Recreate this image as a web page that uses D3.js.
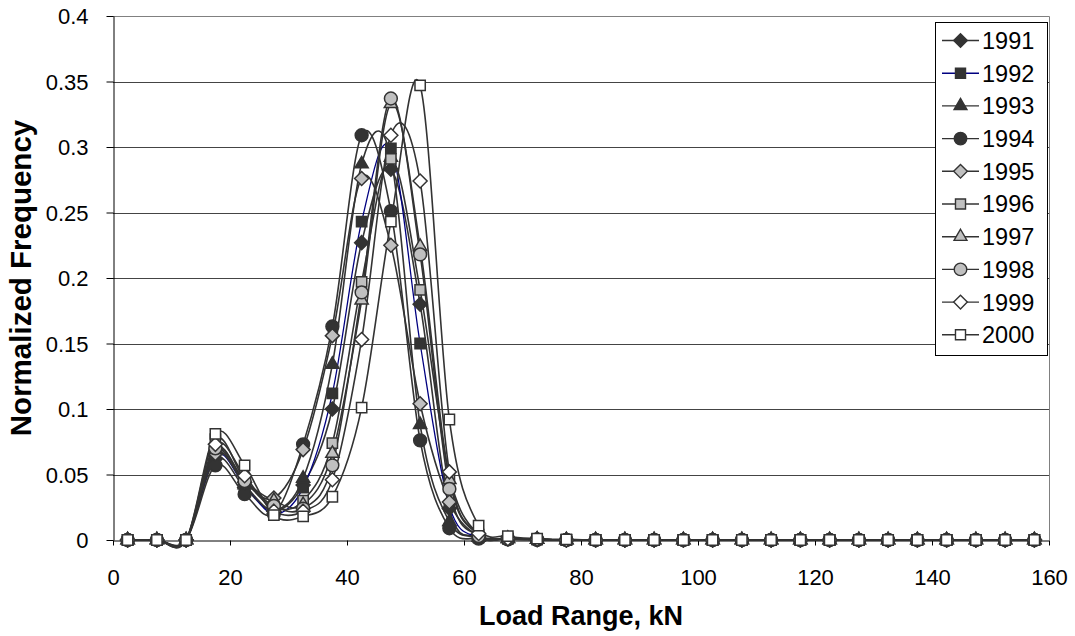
<!DOCTYPE html>
<html>
<head>
<meta charset="utf-8">
<script src="https://cdn.jsdelivr.net/npm/d3@7"></script>
<style>
  html, body { margin: 0; padding: 0; background: #fff; }
  svg { display: block; font-family: "Liberation Sans", Arial, sans-serif; }
</style>
</head>
<body>
<svg id="chart" width="1075" height="636"></svg>
<script>
// Load range bin midpoints (kN)
const loadRange = [2.5, 7.5, 12.5, 17.5, 22.5, 27.5, 32.5, 37.5, 42.5, 47.5, 52.5, 57.5,
  62.5, 67.5, 72.5, 77.5, 82.5, 87.5, 92.5, 97.5, 102.5, 107.5, 112.5, 117.5,
  122.5, 127.5, 132.5, 137.5, 142.5, 147.5, 152.5, 157.5];

const years = ["1991", "1992", "1993", "1994", "1995", "1996", "1997", "1998", "1999", "2000"];

// Normalized frequency per year (same order as loadRange; bins above 77.5 kN are empty)
const tail = new Array(16).fill(0);
const f1991 = [0, 0, 0, 0.062, 0.040, 0.022, 0.042, 0.100, 0.227, 0.283, 0.180, 0.024, 0.003, 0.001, 0.0005, 0, ...tail];
const f1992 = [0, 0, 0, 0.065, 0.042, 0.020, 0.040, 0.112, 0.243, 0.299, 0.150, 0.026, 0.002, 0.001, 0.0005, 0, ...tail];
const f1993 = [0, 0, 0, 0.068, 0.042, 0.023, 0.047, 0.134, 0.287, 0.292, 0.088, 0.014, 0.002, 0.001, 0.0005, 0, ...tail];
const f1994 = [0, 0, 0, 0.057, 0.035, 0.020, 0.073, 0.163, 0.309, 0.251, 0.076, 0.009, 0.001, 0.0005, 0, 0, ...tail];
const f1995 = [0, 0, 0, 0.066, 0.044, 0.032, 0.069, 0.156, 0.276, 0.225, 0.104, 0.029, 0.003, 0.001, 0.0005, 0, ...tail];
const f1996 = [0, 0, 0, 0.077, 0.046, 0.025, 0.030, 0.074, 0.197, 0.291, 0.191, 0.049, 0.004, 0.001, 0.0005, 0, ...tail];
const f1997 = [0, 0, 0, 0.069, 0.045, 0.030, 0.027, 0.066, 0.183, 0.333, 0.224, 0.046, 0.004, 0.001, 0.0005, 0, ...tail];
const f1998 = [0, 0, 0, 0.070, 0.045, 0.026, 0.024, 0.057, 0.189, 0.337, 0.218, 0.039, 0.003, 0.001, 0.0005, 0, ...tail];
const f1999 = [0, 0, 0, 0.073, 0.049, 0.022, 0.022, 0.046, 0.153, 0.309, 0.274, 0.052, 0.005, 0.001, 0.0005, 0, ...tail];
const f2000 = [0, 0, 0, 0.081, 0.057, 0.019, 0.018, 0.033, 0.101, 0.243, 0.347, 0.092, 0.011, 0.003, 0.001, 0.0005, ...tail];

const seriesValues = [f1991, f1992, f1993, f1994, f1995, f1996, f1997, f1998, f1999, f2000];

const xTicks = [0, 20, 40, 60, 80, 100, 120, 140, 160];
const yTicks = [0, 0.05, 0.1, 0.15, 0.2, 0.25, 0.3, 0.35, 0.4];

// Marker shape / fill / line colour per year
const shapes = ["diamond", "square", "triangle", "circle", "diamond", "square", "triangle", "circle", "diamond", "square"];
const fills = ["#333333", "#333333", "#333333", "#333333", "#c0c0c0", "#c0c0c0", "#c0c0c0", "#c0c0c0", "#ffffff", "#ffffff"];
const lineColors = ["#333333", "#000080", "#333333", "#333333", "#333333", "#333333", "#333333", "#333333", "#333333", "#333333"];

const svg = d3.select("#chart");
const plot = { left: 113, right: 1049, top: 16, bottom: 540 };

const x = d3.scaleLinear().domain([0, 160]).range([plot.left, plot.right]);
const y = d3.scaleLinear().domain([0, 0.4]).range([plot.bottom, plot.top]);

// Horizontal gridlines
svg.append("g")
  .selectAll("line")
  .data(yTicks.filter(t => t > 0 && t < 0.4))
  .join("line")
  .attr("x1", plot.left).attr("x2", plot.right)
  .attr("y1", d => Math.round(y(d)) + 0.5).attr("y2", d => Math.round(y(d)) + 0.5)
  .attr("stroke", "#444").attr("stroke-width", 1);

// Plot area border (top and right)
svg.append("path")
  .attr("d", `M${plot.left},${plot.top + 0.5}H${plot.right + 0.5}V${plot.bottom}`)
  .attr("fill", "none").attr("stroke", "#808080").attr("stroke-width", 1);

// Axes
const xAxis = d3.axisBottom(x).tickValues(xTicks).tickFormat(d3.format("d")).tickSize(5).tickSizeOuter(0);
const yAxis = d3.axisLeft(y).tickValues(yTicks).tickFormat(d => d === 0 ? "0" : String(+d.toFixed(2))).tickSize(7).tickSizeOuter(0);

const gx = svg.append("g").attr("transform", `translate(0,${plot.bottom + 0.5})`).call(xAxis);
const gy = svg.append("g").attr("transform", `translate(${plot.left + 0.5},0)`).call(yAxis);
[gx, gy].forEach(g => {
  g.select(".domain").attr("stroke", "#000").attr("stroke-width", 1);
  g.selectAll(".tick line").attr("stroke", "#000");
  g.selectAll(".tick text").attr("fill", "#000").attr("font-size", "22px")
    .attr("font-family", "'Liberation Sans', Arial, sans-serif");
});
gx.selectAll(".tick text").attr("y", 44.5).attr("dy", 0);
gy.selectAll(".tick text").attr("x", -25).attr("dy", "0.36em");

// Axis titles
svg.append("text")
  .attr("x", 581).attr("y", 625)
  .attr("text-anchor", "middle").attr("font-size", "27px").attr("font-weight", "bold")
  .text("Load Range, kN");
svg.append("text")
  .attr("transform", `translate(31,278) rotate(-90)`)
  .attr("text-anchor", "middle").attr("font-size", "29.5px").attr("font-weight", "bold")
  .text("Normalized Frequency");

// Smoothed series lines
const line = d3.line()
  .x((d, i) => x(loadRange[i]))
  .y(d => y(d))
  .curve(d3.curveCardinal.tension(0));

const clipId = "plot-clip";
svg.append("clipPath").attr("id", clipId)
  .append("rect").attr("x", plot.left).attr("y", plot.top - 10)
  .attr("width", plot.right - plot.left).attr("height", plot.bottom - plot.top + 20);

const linesG = svg.append("g").attr("clip-path", `url(#${clipId})`);
seriesValues.forEach((vals, s) => {
  linesG.append("path")
    .datum(vals)
    .attr("d", line)
    .attr("fill", "none")
    .attr("stroke", lineColors[s])
    .attr("stroke-width", s === 1 ? 1.3 : 1.6);
});

// Marker symbols
const symbolTypes = {
  diamond: d3.symbolDiamond2,
  square: d3.symbolSquare2,
  triangle: d3.symbolTriangle2,
  circle: d3.symbolCircle
};
const symbolSizes = { diamond: 125, square: 135, triangle: 125, circle: 130 };

function markerPath(shape, scale = 1) {
  return d3.symbol().type(symbolTypes[shape]).size(symbolSizes[shape] * scale)();
}

const markersG = svg.append("g");
seriesValues.forEach((vals, s) => {
  markersG.append("g")
    .selectAll("path")
    .data(vals)
    .join("path")
    .attr("transform", (d, i) => `translate(${x(loadRange[i])},${y(d)})`)
    .attr("d", markerPath(shapes[s]))
    .attr("fill", fills[s])
    .attr("stroke", "#333")
    .attr("stroke-width", 1.5);
});

// Legend
const legend = { x: 935, y: 22, w: 112, h: 333 };
const lg = svg.append("g");
lg.append("rect")
  .attr("x", legend.x + 0.5).attr("y", legend.y + 0.5)
  .attr("width", legend.w).attr("height", legend.h)
  .attr("fill", "#fff").attr("stroke", "#000").attr("stroke-width", 1);

const rowStep = 32.7;
years.forEach((yr, s) => {
  const cy = legend.y + 18.5 + s * rowStep;
  const row = lg.append("g");
  row.append("line")
    .attr("x1", legend.x + 7).attr("x2", legend.x + 44)
    .attr("y1", cy).attr("y2", cy)
    .attr("stroke", lineColors[s]).attr("stroke-width", 1.4);
  row.append("path")
    .attr("transform", `translate(${legend.x + 25.5},${cy})`)
    .attr("d", markerPath(shapes[s], 0.95))
    .attr("fill", fills[s]).attr("stroke", "#333").attr("stroke-width", 1.4);
  row.append("text")
    .attr("x", legend.x + 47).attr("y", cy).attr("dy", "0.36em")
    .attr("font-size", "23.5px").attr("fill", "#000")
    .text(yr);
});
</script>
</body>
</html>
